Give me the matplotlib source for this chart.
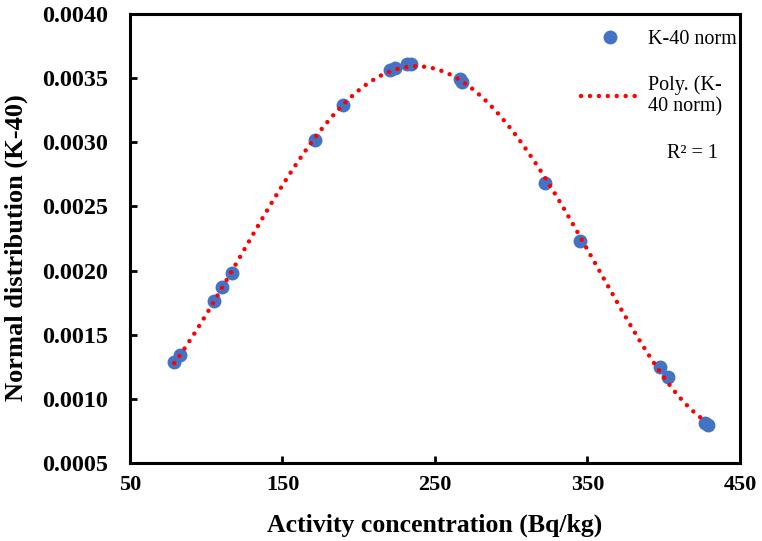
import numpy as np
import matplotlib
matplotlib.use('Agg')
import matplotlib.pyplot as plt
from matplotlib.lines import Line2D

# K-40 activity concentration (Bq/kg) and normal distribution values
activity = [79.0, 82.7, 104.9, 110.6, 116.7, 171.6, 189.7, 220.6, 223.9, 231.5,
            234.1, 266.3, 268.0, 322.3, 345.4, 397.3, 402.9, 427.0, 429.0]
norm_k40 = [0.001284, 0.001341, 0.00176, 0.00187, 0.001979, 0.003021, 0.003289,
            0.003562, 0.003576, 0.003607, 0.003607, 0.00349, 0.003471, 0.002682,
            0.002232, 0.001252, 0.001167, 0.000812, 0.000795]

x_ticks = [50, 150, 250, 350, 450]
y_ticks = [0.0005, 0.0010, 0.0015, 0.0020, 0.0025, 0.0030, 0.0035, 0.0040]

plt.rcParams['font.family'] = ['Liberation Serif', 'DejaVu Serif']

x = np.array(activity)
y = np.array(norm_k40)

# polynomial trendline (like the spreadsheet "Poly." trendline)
coef = np.polyfit(x, y, 4)
xs = np.linspace(x.min(), x.max() - 2, 300)
ys = np.polyval(coef, xs)

fig = plt.figure(figsize=(7.62, 5.41), dpi=100)
ax = fig.add_axes([0.1706, 0.1442, 0.8004, 0.8299])

ax.plot(x, y, 'o', color='#4472C4', markersize=9, zorder=2, label='K-40 norm')
ax.plot(xs, ys, color='#FF0000', linewidth=3.2, linestyle=(0, (0.01, 2.0)),
        dash_capstyle='round', zorder=3)

ax.set_xlim(50, 450)
ax.set_ylim(0.0005, 0.0040)
ax.set_xticks(x_ticks)
ax.set_yticks(y_ticks)
ax.set_xticklabels([str(t) for t in x_ticks], fontsize=16, fontweight='bold')
ax.set_yticklabels(['{:.4f}'.format(t) for t in y_ticks], fontsize=17.4, fontweight='bold')

ax.tick_params(direction='in', length=5, width=2)
ax.tick_params(axis='x', pad=9)
ax.tick_params(axis='y', pad=16)
for spine in ax.spines.values():
    spine.set_linewidth(2.2)

ax.set_xlabel('Activity concentration (Bq/kg)', fontsize=18.5, fontweight='bold', labelpad=13)
ax.set_ylabel('Normal distribution (K-40)', fontsize=19, fontweight='bold')
ax.yaxis.set_label_coords(-0.167, 0.48)

handles = [
    Line2D([], [], marker='o', linestyle='none', color='#4472C4', markersize=9),
    Line2D([], [], color='#FF0000', linewidth=3.2, linestyle=(0, (0.01, 2.0)),
           dash_capstyle='round'),
]
leg = ax.legend(handles, ['K-40 norm', 'Poly. (K-\n40 norm)'], loc='upper right',
                bbox_to_anchor=(0.995, 0.965), frameon=False, fontsize=14.5,
                handlelength=2.9, handletextpad=0.45, labelspacing=1.3,
                borderpad=0, borderaxespad=0)
ax.text(0.923, 0.69, 'R² = 1', transform=ax.transAxes, fontsize=14.5,
        ha='center', va='center')

fig.savefig('out.png', dpi=100)
